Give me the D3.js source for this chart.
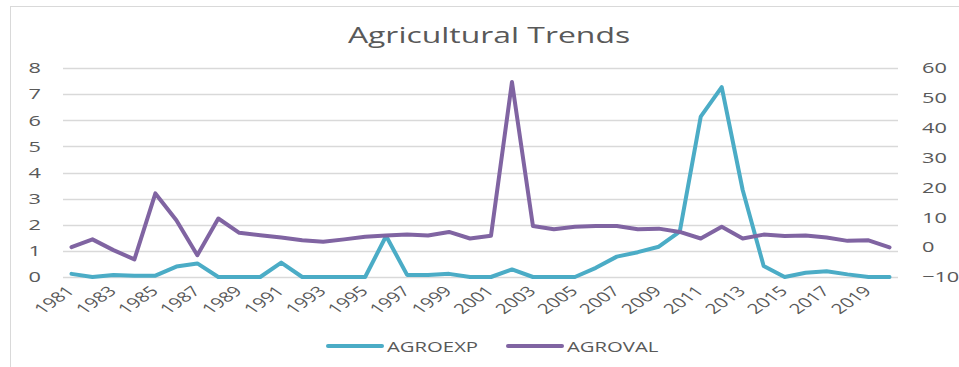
<!DOCTYPE html>
<html>
<head>
<meta charset="utf-8">
<script src="https://cdn.jsdelivr.net/npm/d3@7"></script>
<style>
  body { margin: 0; background: #fff; }
  text { font-family: "Open Sans", sans-serif; fill: #595959; }
</style>
</head>
<body>
<script>
// data
let years = d3.range(1981, 2021)
let agroexp = [0.12, 0, 0.08, 0.05, 0.05, 0.4, 0.52, 0, 0, 0,
  0.55, 0, 0, 0, 0, 1.57, 0.08, 0.08, 0.12, 0,
  0, 0.29, 0, 0, 0, 0.35, 0.78, 0.95, 1.16, 1.74,
  6.14, 7.27, 3.33, 0.42, 0, 0.16, 0.22, 0.1, 0, 0]
let agroval = [0, 2.6, -1, -4.1, 18, 9, -2.7, 9.6, 4.8, 4,
  3.2, 2.3, 1.8, 2.6, 3.5, 3.9, 4.2, 3.9, 5.1, 2.9,
  3.8, 55.3, 7.1, 6, 6.8, 7.1, 7.1, 6, 6.2, 5.1,
  2.9, 6.8, 2.9, 4.2, 3.7, 3.9, 3.2, 2.1, 2.3, -0.1]
let leftTicks = [0, 1, 2, 3, 4, 5, 6, 7, 8]
let rightTicks = [-10, 0, 10, 20, 30, 40, 50, 60]
let seriesNames = ['AGROEXP', 'AGROVAL']
let colors = ['#4bacc6', '#8064a2']

// the source picture is stretched sideways, so text is too
let sx = 1.45

let W = 959, H = 367
let svg = d3.select('body')
  .append('svg')
  .attr('width', W)
  .attr('height', H)

// chart frame
svg.append('rect')
  .attr('x', 10.5).attr('y', 6.5)
  .attr('width', W + 10).attr('height', H + 10)
  .attr('fill', 'none')
  .attr('stroke', '#d9d9d9')

svg.append('text')
  .attr('transform', 'translate(489,43) scale(' + sx + ',1)')
  .attr('text-anchor', 'middle')
  .style('font-size', '22px')
  .text('Agricultural Trends')

let x = d3.scaleBand()
  .domain(years)
  .range([61, 900])

let yL = d3.scaleLinear().domain([0, 8]).range([277, 68])
let yR = d3.scaleLinear().domain([-10, 60]).range([277, 68])

// gridlines
svg.append('g')
  .selectAll('line')
  .data(leftTicks)
  .join('line')
  .attr('x1', 63).attr('x2', 898)
  .attr('y1', d => Math.round(yL(d)) + 0.5)
  .attr('y2', d => Math.round(yL(d)) + 0.5)
  .attr('stroke', '#d9d9d9')
  .attr('stroke-width', 1.5)

let leftAxis = svg.append('g')
  .attr('transform', 'translate(41,0)')
  .call(d3.axisLeft(yL).tickValues(leftTicks).tickSize(0).tickPadding(0))
leftAxis.select('.domain').remove()
leftAxis.selectAll('text')
  .attr('x', 0)
  .attr('transform', 'scale(' + sx + ',1)')
  .style('font-size', '15px')
  .attr('fill', '#595959')

let rightAxis = svg.append('g')
  .attr('transform', 'translate(922,0)')
  .call(d3.axisRight(yR).tickValues(rightTicks).tickSize(0).tickPadding(0))
rightAxis.select('.domain').remove()
rightAxis.selectAll('text')
  .attr('x', 0)
  .attr('transform', 'scale(' + sx + ',1)')
  .style('font-size', '15px')
  .attr('fill', '#595959')

// x labels, every other year, rotated
svg.append('g')
  .selectAll('text')
  .data(years.filter((d, i) => i % 2 === 0))
  .join('text')
  .attr('transform', d => 'translate(' + (x(d) + x.bandwidth() / 2 + 4) + ',292) scale(' + sx + ',1) rotate(-45)')
  .attr('text-anchor', 'end')
  .style('font-size', '14px')
  .text(d => d)

let cx = d => x(d) + x.bandwidth() / 2

let lineL = d3.line()
  .x((d, i) => cx(years[i]))
  .y(d => yL(d))
let lineR = d3.line()
  .x((d, i) => cx(years[i]))
  .y(d => yR(d))

svg.append('path')
  .attr('d', lineL(agroexp))
  .attr('fill', 'none')
  .attr('stroke', colors[0])
  .attr('stroke-width', 4)
  .attr('stroke-linejoin', 'round')
  .attr('stroke-linecap', 'round')

svg.append('path')
  .attr('d', lineR(agroval))
  .attr('fill', 'none')
  .attr('stroke', colors[1])
  .attr('stroke-width', 4)
  .attr('stroke-linejoin', 'round')
  .attr('stroke-linecap', 'round')

// legend
let legend = svg.append('g')
  .selectAll('g')
  .data(seriesNames)
  .join('g')
  .attr('transform', (d, i) => 'translate(' + (328 + i * 180) + ',346)')

legend.append('line')
  .attr('x1', 0).attr('x2', 54)
  .attr('stroke', (d, i) => colors[i])
  .attr('stroke-width', 4)
  .attr('stroke-linecap', 'round')

legend.append('text')
  .attr('transform', 'translate(59,6) scale(' + sx + ',1)')
  .style('font-size', '14px')
  .text(d => d)
</script>
</body>
</html>
